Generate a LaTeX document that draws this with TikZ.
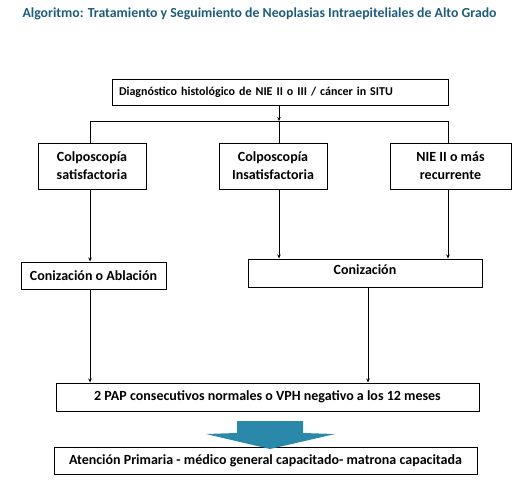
\documentclass[tikz,border=0pt]{standalone}
\usepackage{fontspec}
\setmainfont{Carlito}
\usetikzlibrary{arrows.meta}
\definecolor{titleblue}{HTML}{1D5C7C}
\definecolor{arrowblue}{HTML}{2A88A8}
\begin{document}
\begin{tikzpicture}[x=1pt,y=-1pt,
  box/.style={draw=black,line width=1pt,inner sep=0pt,font=\bfseries\fontsize{14}{17}\selectfont},
  conn/.style={draw=black,line width=0.7pt},
  arr/.style={conn,-{Stealth[length=4pt,width=3.5pt]}}]
\useasboundingbox (0,0) rectangle (517,480);
\node[font=\bfseries\fontsize{13.8}{15}\selectfont,text=titleblue,anchor=west] (title) at (19,14) {Algoritmo: Tratamiento y Seguimiento de Neoplasias Intraepiteliales de Alto Grado};
% boxes
\node[box,font=\bfseries\fontsize{12}{14}\selectfont,minimum width=336pt,minimum height=26pt,text width=322pt,align=left] (diag) at (280,92) {Diagnóstico histológico de NIE II o III / cáncer in SITU};
\node[box,minimum width=108pt,minimum height=46pt,align=center] (sat) at (92,166) {Colposcopía\\[1pt]satisfactoria};
\node[box,minimum width=108pt,minimum height=46pt,align=center] (ins) at (273,166) {Colposcopía\\[1pt]Insatisfactoria};
\node[box,minimum width=121pt,minimum height=46pt,align=center] (nie) at (450.5,166) {NIE II o más\\[1pt]recurrente};
\node[box,minimum width=145pt,minimum height=27pt] (abl) at (93.5,275.5) {Conización o Ablación};
\node[box,minimum width=234pt,minimum height=28pt,text depth=6pt] (con) at (365,273) {Conización};
\node[box,minimum width=423pt,minimum height=28pt] (pap) at (267.5,397) {2 PAP consecutivos normales o VPH negativo a los 12 meses};
\node[box,minimum width=423pt,minimum height=27pt] (ap) at (265.5,460.5) {Atención Primaria - médico general capacitado- matrona capacitada};
% connectors
\coordinate (j) at (279,121);
\coordinate (jl) at (90,121);
\coordinate (jr) at (448,121);
\draw[arr] (diag.south -| j) -- (j);
\draw[conn] (jl) -- (jr);
\draw[conn] (jl) -- (jl |- sat.north);
\draw[conn] (j) -- (j |- ins.north);
\draw[conn] (jr) -- (jr |- nie.north);
\draw[arr] (sat.south -| jl) -- (jl |- abl.north);
\draw[arr] (ins.south -| j) -- (j |- con.north);
\draw[arr] (nie.south -| jr) -- (jr |- con.north);
\coordinate (cx) at (368,0);
\draw[arr] (abl.south -| jl) -- (jl |- pap.north);
\draw[arr] (con.south -| cx) -- (cx |- pap.north);
% big arrow
\fill[arrowblue] (237,421) -- (303,421) -- (303,433) -- (335,434) -- (270,449) -- (206,434) -- (237,433) -- cycle;
\end{tikzpicture}
\end{document}
